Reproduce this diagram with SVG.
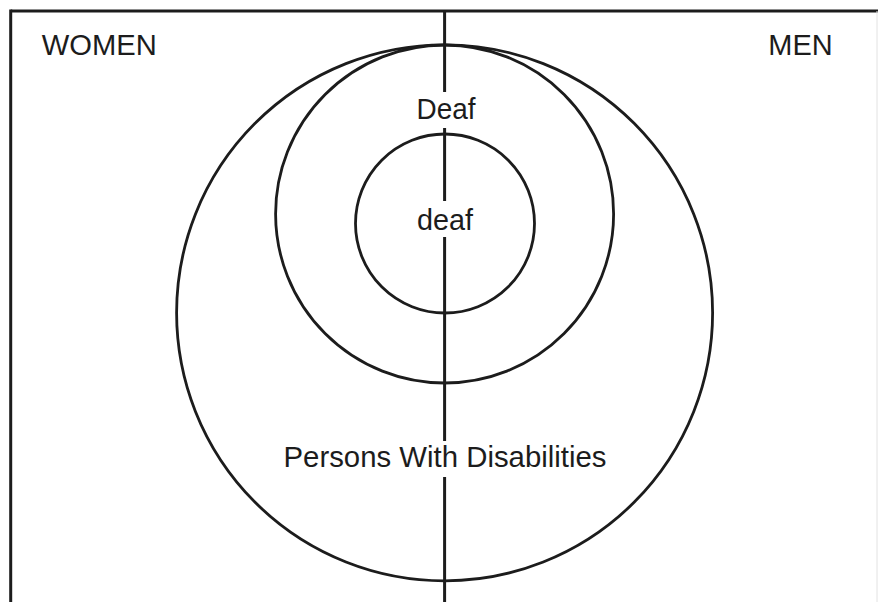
<svg xmlns="http://www.w3.org/2000/svg" width="878" height="602" viewBox="0 0 878 602">
<style>
.ln{stroke:#1c1c1c;stroke-width:3;fill:none}
.c{stroke:#1c1c1c;stroke-width:2.8;fill:none}
.t{font-family:"Liberation Sans",Arial,sans-serif;font-size:29px;fill:#1c1c1c}
.bg{fill:#fff}
</style>
<rect width="878" height="602" fill="#fff"/>
<g id="frame">
<line class="ln" x1="10.7" y1="11" x2="878" y2="11"/>
<line class="ln" x1="10.7" y1="9.5" x2="10.7" y2="602"/>
<line x1="877" y1="11" x2="877" y2="602" stroke="#e2e2e2" stroke-width="1"/>
</g>
<g id="connectors">
<line class="ln" x1="444.6" y1="11" x2="444.6" y2="602"/>
</g>
<g id="disabilities">
<circle class="c" cx="444.6" cy="312.8" r="268"/>
<rect class="bg" x="430" y="441" width="30" height="36"/>
<text class="t" x="445" y="467.3" text-anchor="middle" textLength="323" lengthAdjust="spacingAndGlyphs">Persons With Disabilities</text>
</g>
<g id="Deaf">
<circle class="c" cx="444.6" cy="214" r="169"/>
<rect class="bg" x="430" y="92" width="30" height="36"/>
<text class="t" x="446" y="119.3" text-anchor="middle" textLength="59" lengthAdjust="spacingAndGlyphs">Deaf</text>
</g>
<g id="deaf">
<circle class="c" cx="445" cy="223.5" r="89.5"/>
<rect class="bg" x="430" y="201" width="30" height="36"/>
<text class="t" x="445" y="230" text-anchor="middle" textLength="56" lengthAdjust="spacingAndGlyphs">deaf</text>
</g>
<g id="women">
<text class="t" x="41.7" y="55" textLength="115" lengthAdjust="spacingAndGlyphs">WOMEN</text>
</g>
<g id="men">
<text class="t" x="768.3" y="55" textLength="64.4" lengthAdjust="spacingAndGlyphs">MEN</text>
</g>
</svg>
